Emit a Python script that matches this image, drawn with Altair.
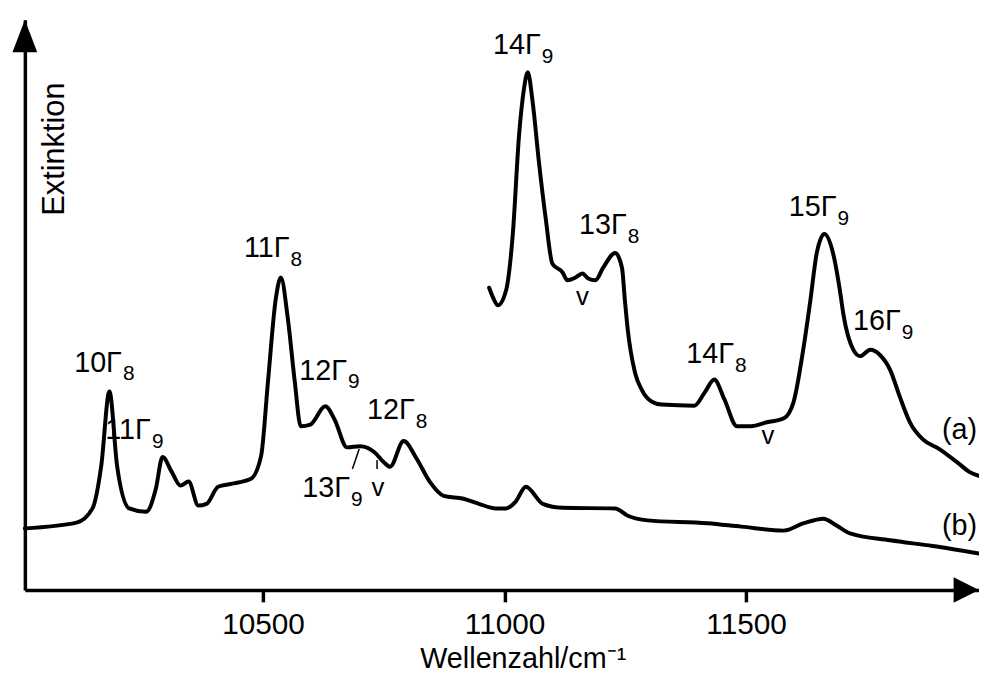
import altair as alt
import pandas as pd

FONT = "Liberation Sans"

# ---- spectrum (b): lower trace ----
b_x = [10007, 10114, 10147, 10165, 10182, 10198, 10223, 10258, 10278, 10292,
       10311, 10329, 10346, 10366, 10383, 10407, 10434, 10475, 10496, 10510,
       10526, 10537, 10551, 10566, 10578, 10598, 10629, 10648, 10674, 10701,
       10730, 10750, 10763, 10791, 10818, 10845, 10874, 10915, 10947, 10982,
       11003, 11023, 11044, 11079, 11120, 11229, 11255, 11296, 11420, 11490,
       11578, 11619, 11660, 11687, 11715, 11798, 11886, 11982]
b_y = [10.8, 11.8, 14.3, 21.7, 34.8, 21.7, 14.3, 13.7, 17.7, 23.3,
       20.7, 18.3, 19.0, 14.8, 15.1, 18.1, 18.6, 19.5, 23.5, 36.3,
       50.8, 54.8, 47.8, 36.3, 28.7, 29.0, 32.2, 29.9, 25.0, 25.2,
       24.2, 22.4, 21.6, 26.1, 23.0, 19.0, 16.5, 16.0, 15.1, 14.3,
       14.3, 15.5, 18.1, 15.1, 14.4, 14.3, 13.0, 12.2, 11.7, 11.1,
       10.4, 11.7, 12.5, 11.3, 9.9, 8.7, 7.7, 6.4]

# ---- spectrum (a): upper trace ----
a_x = [10968, 10976, 10986, 11003, 11017, 11030, 11040, 11048, 11058, 11071,
       11085, 11099, 11120, 11130, 11147, 11161, 11173, 11188, 11204, 11229,
       11243, 11249, 11255, 11270, 11284, 11305, 11325, 11393, 11414, 11434,
       11455, 11481, 11510, 11543, 11578, 11598, 11619, 11633, 11646, 11662,
       11680, 11695, 11701, 11722, 11736, 11757, 11777, 11798, 11818, 11839,
       11866, 11900, 11941, 11962, 11982]
a_y = [53.0, 51.3, 49.9, 52.5, 62.4, 79.8, 87.8, 90.8, 85.6, 75.1,
       65.2, 57.2, 55.7, 54.3, 54.8, 55.5, 54.6, 54.3, 56.5, 59.1,
       56.5, 50.8, 45.6, 38.1, 35.1, 33.0, 32.5, 32.3, 34.6, 36.9,
       33.4, 28.7, 28.7, 29.4, 30.1, 32.9, 42.6, 50.8, 59.0, 62.4,
       59.0, 52.0, 48.5, 42.1, 41.0, 42.1, 41.2, 38.6, 33.9, 29.4,
       26.4, 24.7, 22.1, 20.7, 20.0]

# ---- peak assignments ----
lab_main = ["10\u0393", "11\u0393", "11\u0393", "12\u0393", "12\u0393", "13\u0393",
            "14\u0393", "13\u0393", "14\u0393", "15\u0393", "16\u0393"]
lab_sub = ["8", "9", "8", "9", "8", "9", "9", "8", "8", "9", "9"]
lab_x = [10208, 10268, 10555, 10674, 10814, 10680, 11075, 11253, 11475, 11687, 11820]
lab_y = [38.3, 26.4, 58.3, 36.9, 29.9, 16.3, 93.9, 62.4, 39.8, 65.6, 45.6]

# "v" markers
v_x = [10738, 11161, 11545]
v_y = [16.5, 49.9, 25.6]

# trace labels (right edge)
tr_text = ["(a)", "(b)"]
tr_x = [11982, 11982]
tr_y = [26.4, 9.7]

# small leader strokes near 13Γ9
seg_x = [10699, 10736]
seg_x2 = [10685, 10736]
seg_y = [24.7, 22.8]
seg_y2 = [21.2, 21.2]

XMIN, XMAX = 10007, 11982
YMIN, YMAX = 0, 100

xs = alt.Scale(domain=[XMIN, XMAX], nice=False, zero=False)
ys = alt.Scale(domain=[YMIN, YMAX], nice=False, zero=False)

df_a = pd.DataFrame({"x": a_x, "y": a_y})
df_b = pd.DataFrame({"x": b_x, "y": b_y})
df_lab = pd.DataFrame({"x": lab_x, "y": lab_y, "m": lab_main, "s": lab_sub})
df_v = pd.DataFrame({"x": v_x, "y": v_y, "t": ["v"] * len(v_x)})
df_tr = pd.DataFrame({"x": tr_x, "y": tr_y, "t": tr_text})
df_seg = pd.DataFrame({"x": seg_x, "x2": seg_x2, "y": seg_y, "y2": seg_y2})
df_arx = pd.DataFrame({"x": [XMAX], "y": [YMIN]})
df_ary = pd.DataFrame({"x": [XMIN], "y": [YMAX]})

x_axis = alt.Axis(
    values=[10500, 11000, 11500], format="d", grid=False,
    domainColor="black", domainWidth=3.5, tickColor="black", tickWidth=3.5,
    tickSize=12, labelPadding=8, labelFont=FONT, labelFontSize=30,
    labelColor="black", title="Wellenzahl/cm\u207b\u00b9", titleFont=FONT,
    titleFontSize=29, titleFontWeight="normal", titleColor="black",
    titleX=502, titleY=78, titleAlign="center", titleBaseline="alphabetic",
)
y_axis = alt.Axis(
    grid=False, ticks=False, labels=False, domainColor="black", domainWidth=3.5,
    title="Extinktion", titleFont=FONT, titleFontSize=31, titleFontWeight="normal",
    titleColor="black", titleAngle=270, titleX=39, titleY=130,
    titleAlign="center", titleBaseline="alphabetic",
)

base_line = dict(color="black", strokeWidth=4, strokeJoin="round", strokeCap="round",
                 interpolate="monotone")

line_b = alt.Chart(df_b).mark_line(**base_line).encode(
    x=alt.X("x:Q", scale=xs, axis=x_axis),
    y=alt.Y("y:Q", scale=ys, axis=y_axis),
)
line_a = alt.Chart(df_a).mark_line(**base_line).encode(
    x=alt.X("x:Q", scale=xs), y=alt.Y("y:Q", scale=ys)
)

txt_main = alt.Chart(df_lab).mark_text(
    align="right", baseline="alphabetic", font=FONT, fontSize=29, color="black"
).encode(x=alt.X("x:Q", scale=xs), y=alt.Y("y:Q", scale=ys), text="m:N")
txt_sub = alt.Chart(df_lab).mark_text(
    align="left", baseline="alphabetic", font=FONT, fontSize=21, color="black", dx=1, dy=9
).encode(x=alt.X("x:Q", scale=xs), y=alt.Y("y:Q", scale=ys), text="s:N")

txt_v = alt.Chart(df_v).mark_text(
    align="center", baseline="alphabetic", font=FONT, fontSize=26, color="black"
).encode(x=alt.X("x:Q", scale=xs), y=alt.Y("y:Q", scale=ys), text="t:N")

txt_tr = alt.Chart(df_tr).mark_text(
    align="right", baseline="alphabetic", font=FONT, fontSize=29, color="black", dx=-2
).encode(x=alt.X("x:Q", scale=xs), y=alt.Y("y:Q", scale=ys), text="t:N")

segs = alt.Chart(df_seg).mark_rule(color="black", strokeWidth=1.5).encode(
    x=alt.X("x:Q", scale=xs), x2="x2:Q", y=alt.Y("y:Q", scale=ys), y2="y2:Q"
)

arrow_x = alt.Chart(df_arx).mark_point(
    shape="M0,0L-1.6,-0.8L-1.6,0.8Z", size=1024, filled=True, color="black", opacity=1
).encode(x=alt.X("x:Q", scale=xs), y=alt.Y("y:Q", scale=ys))
arrow_y = alt.Chart(df_ary).mark_point(
    shape="M0,0L0.78,2.06L-0.78,2.06Z", size=1024, filled=True, color="black", opacity=1
).encode(x=alt.X("x:Q", scale=xs), y=alt.Y("y:Q", scale=ys))

chart = alt.layer(
    line_b, line_a, segs, txt_main, txt_sub, txt_v, txt_tr, arrow_x, arrow_y
).properties(
    width=962, height=575,
    autosize=alt.AutoSizeParams(type="none"),
    padding={"left": 17, "top": 9, "right": 0, "bottom": 82},
    background="white",
).configure_view(strokeWidth=0)

chart.save("out.html", embed_options={"renderer": "svg", "actions": False})
